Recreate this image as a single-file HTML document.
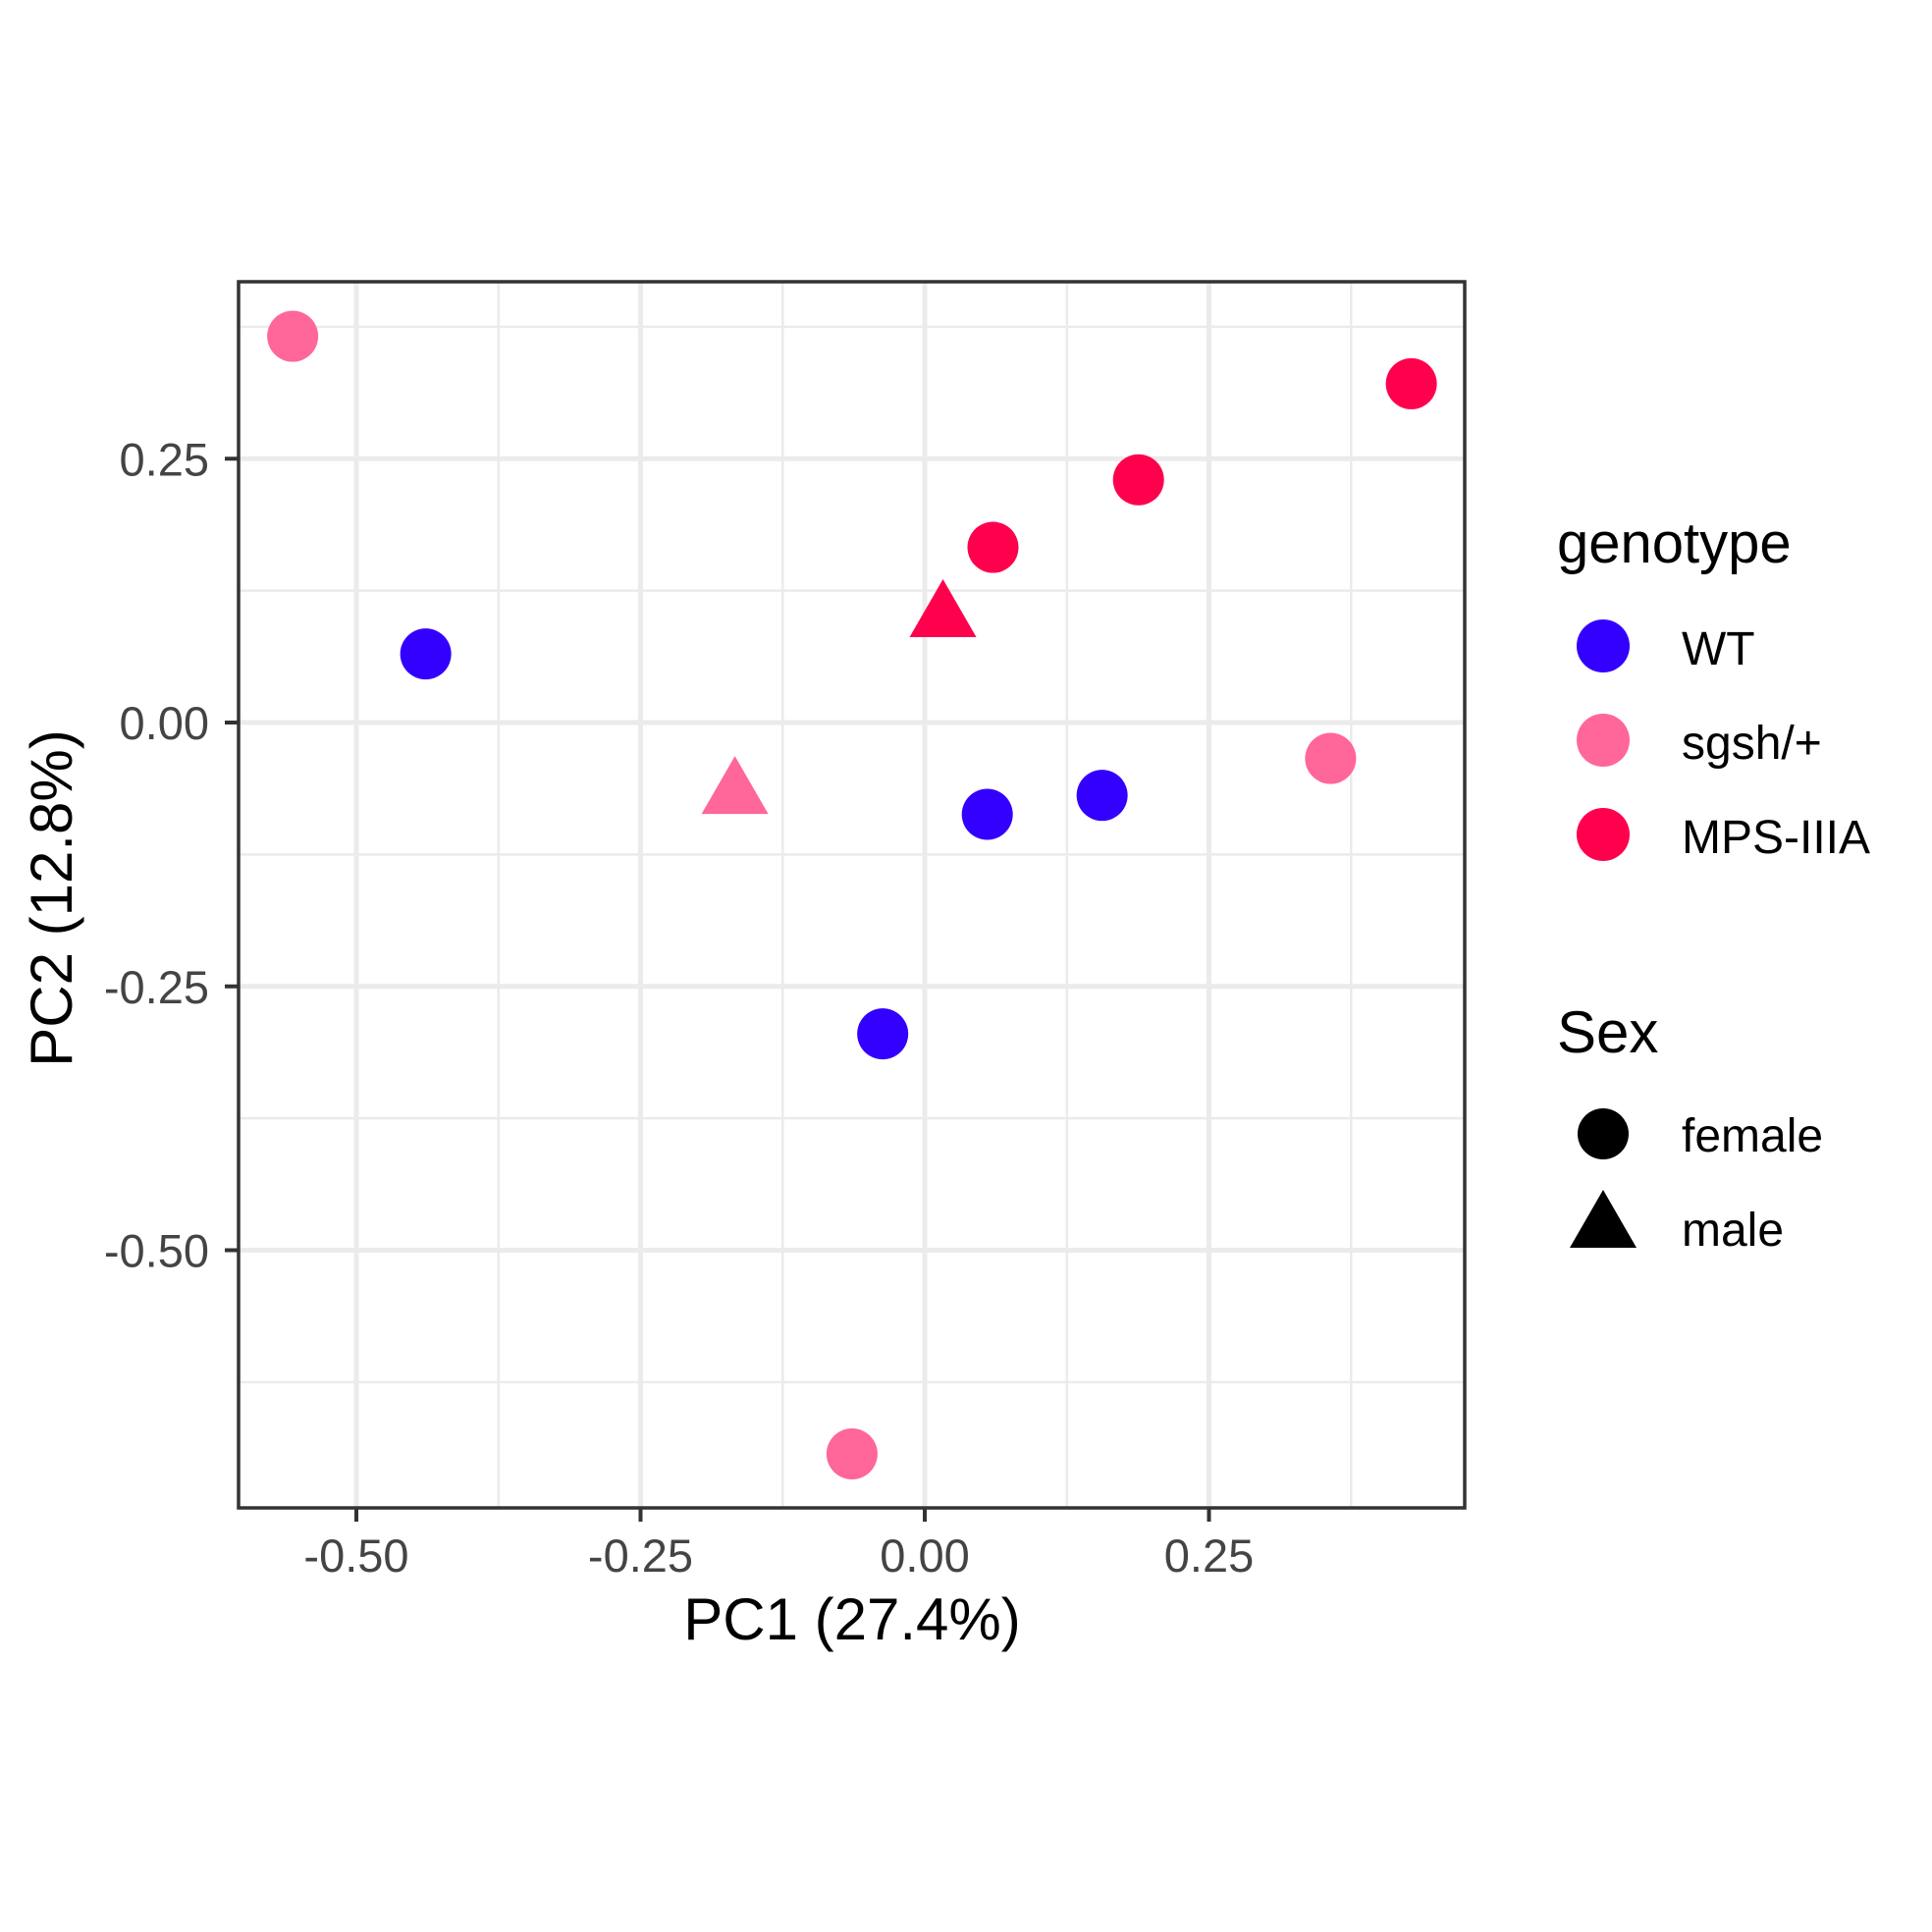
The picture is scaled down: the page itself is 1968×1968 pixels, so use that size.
<!DOCTYPE html>
<html><head><meta charset="utf-8"><style>html,body{margin:0;padding:0;background:#fff}svg{display:block}text{font-family:"Liberation Sans",Arial,sans-serif}</style></head>
<body>
<svg id="chart" width="1968" height="1968" viewBox="0 0 1968 1968" xmlns="http://www.w3.org/2000/svg">
<rect width="1968" height="1968" fill="#fff"/>
<g id="grid"></g>
<g id="points"></g>
<rect x="243" y="287" width="1249" height="1249" fill="none" stroke="#333" stroke-width="3.5"/>
<g id="axes"></g>
<text x="868" y="1670" font-size="60" text-anchor="middle" fill="#000">PC1 (27.4%)</text>
<text transform="translate(73,915) rotate(-90)" font-size="60" text-anchor="middle" fill="#000">PC2 (12.8%)</text>
<g>
<text x="1586" y="573" font-size="58" fill="#000">genotype</text>
<circle cx="1633" cy="658" r="27" fill="#3300FF"/>
<text x="1713" y="677" font-size="48" fill="#000">WT</text>
<circle cx="1633" cy="754" r="27" fill="#FF6699"/>
<text x="1713" y="773" font-size="48" fill="#000">sgsh/+</text>
<circle cx="1633" cy="850" r="27" fill="#FF004D"/>
<text x="1713" y="869" font-size="48" fill="#000">MPS-IIIA</text>
<text x="1586" y="1072" font-size="60" fill="#000">Sex</text>
<circle cx="1633" cy="1155" r="26" fill="#000"/>
<text x="1713" y="1173" font-size="48" fill="#000">female</text>
<polygon points="1633,1212 1667,1271 1599,1271" fill="#000"/>
<text x="1713" y="1269" font-size="48" fill="#000">male</text>
</g>
</svg>
<script>
const xTicks = [-0.5, -0.25, 0, 0.25];
const xTickLabels = ["-0.50", "-0.25", "0.00", "0.25"];
const yTicks = [-0.5, -0.25, 0, 0.25];
const yTickLabels = ["-0.50", "-0.25", "0.00", "0.25"];
const xMinor = [-0.625, -0.375, -0.125, 0.125, 0.375];
const yMinor = [-0.625, -0.375, -0.125, 0.125, 0.375];
const pc1 = [-0.556, -0.439, 0.428, 0.188, 0.060, 0.016, -0.167, 0.055, 0.156, 0.357, -0.037, -0.064];
const pc2 = [0.366, 0.065, 0.321, 0.230, 0.166, 0.0995, -0.068, -0.087, -0.069, -0.034, -0.295, -0.693];
const genotype = ["sgsh/+", "WT", "MPS-IIIA", "MPS-IIIA", "MPS-IIIA", "MPS-IIIA", "sgsh/+", "WT", "WT", "sgsh/+", "WT", "sgsh/+"];
const sex = ["female", "female", "female", "female", "female", "male", "male", "female", "female", "female", "female", "female"];
const colors = {"WT": "#3300FF", "sgsh/+": "#FF6699", "MPS-IIIA": "#FF004D"};

const PL = 243, PR = 1492, PT = 287, PB = 1536;
function xs(v) { return 942 + 1158 * v; }
function ys(v) { return 736 - 1075 * v; }
const NS = "http://www.w3.org/2000/svg";
function mk(tag, attrs, parent) {
  const e = document.createElementNS(NS, tag);
  for (const k in attrs) e.setAttribute(k, attrs[k]);
  parent.appendChild(e);
  return e;
}
const grid = document.getElementById('grid');
const pts = document.getElementById('points');
const axes = document.getElementById('axes');

xMinor.forEach(v => { const x = xs(v); if (x > PL && x < PR) {
  const l = mk('line', {x1: x, x2: x, y1: PT, y2: PB, stroke: '#EBEBEB', 'stroke-width': 2.5}, grid);
  
   } });
yMinor.forEach(v => { const y = ys(v); if (y > PT && y < PB) {
  const l = mk('line', {x1: PL, x2: PR, y1: y, y2: y, stroke: '#EBEBEB', 'stroke-width': 2.5}, grid);
  
   } });
xTicks.forEach((v, i) => {
  const x = xs(v);
  const l = mk('line', {x1: x, x2: x, y1: PT, y2: PB, stroke: '#EBEBEB', 'stroke-width': 5}, grid);
  
  
  const t = mk('line', {x1: x, x2: x, y1: PB, y2: PB + 14, stroke: '#333', 'stroke-width': 4}, axes);
  
  
  const tx = mk('text', {x: x, y: 1601, 'font-size': 47, 'text-anchor': 'middle', fill: '#444'}, axes);
  tx.textContent = xTickLabels[i];
  
  
});
yTicks.forEach((v, i) => {
  const y = ys(v);
  const l = mk('line', {x1: PL, x2: PR, y1: y, y2: y, stroke: '#EBEBEB', 'stroke-width': 5}, grid);
  
  
  const t = mk('line', {x1: PL - 14, x2: PL, y1: y, y2: y, stroke: '#333', 'stroke-width': 4}, axes);
  
  
  const tx = mk('text', {x: 213, y: y + 17, 'font-size': 47, 'text-anchor': 'end', fill: '#444'}, axes);
  tx.textContent = yTickLabels[i];
  
  
});
pc1.forEach((v, i) => {
  const cx = xs(v), cy = ys(pc2[i]);
  const c = colors[genotype[i]];
  let e;
  if (sex[i] === 'male') {
    e = mk('polygon', {points: `${cx},${cy - 39} ${cx + 34},${cy + 20} ${cx - 34},${cy + 20}`, fill: c}, pts);
  } else {
    e = mk('circle', {cx: cx, cy: cy, r: 26, fill: c}, pts);
  }
  
  
});
</script>
</body></html>
